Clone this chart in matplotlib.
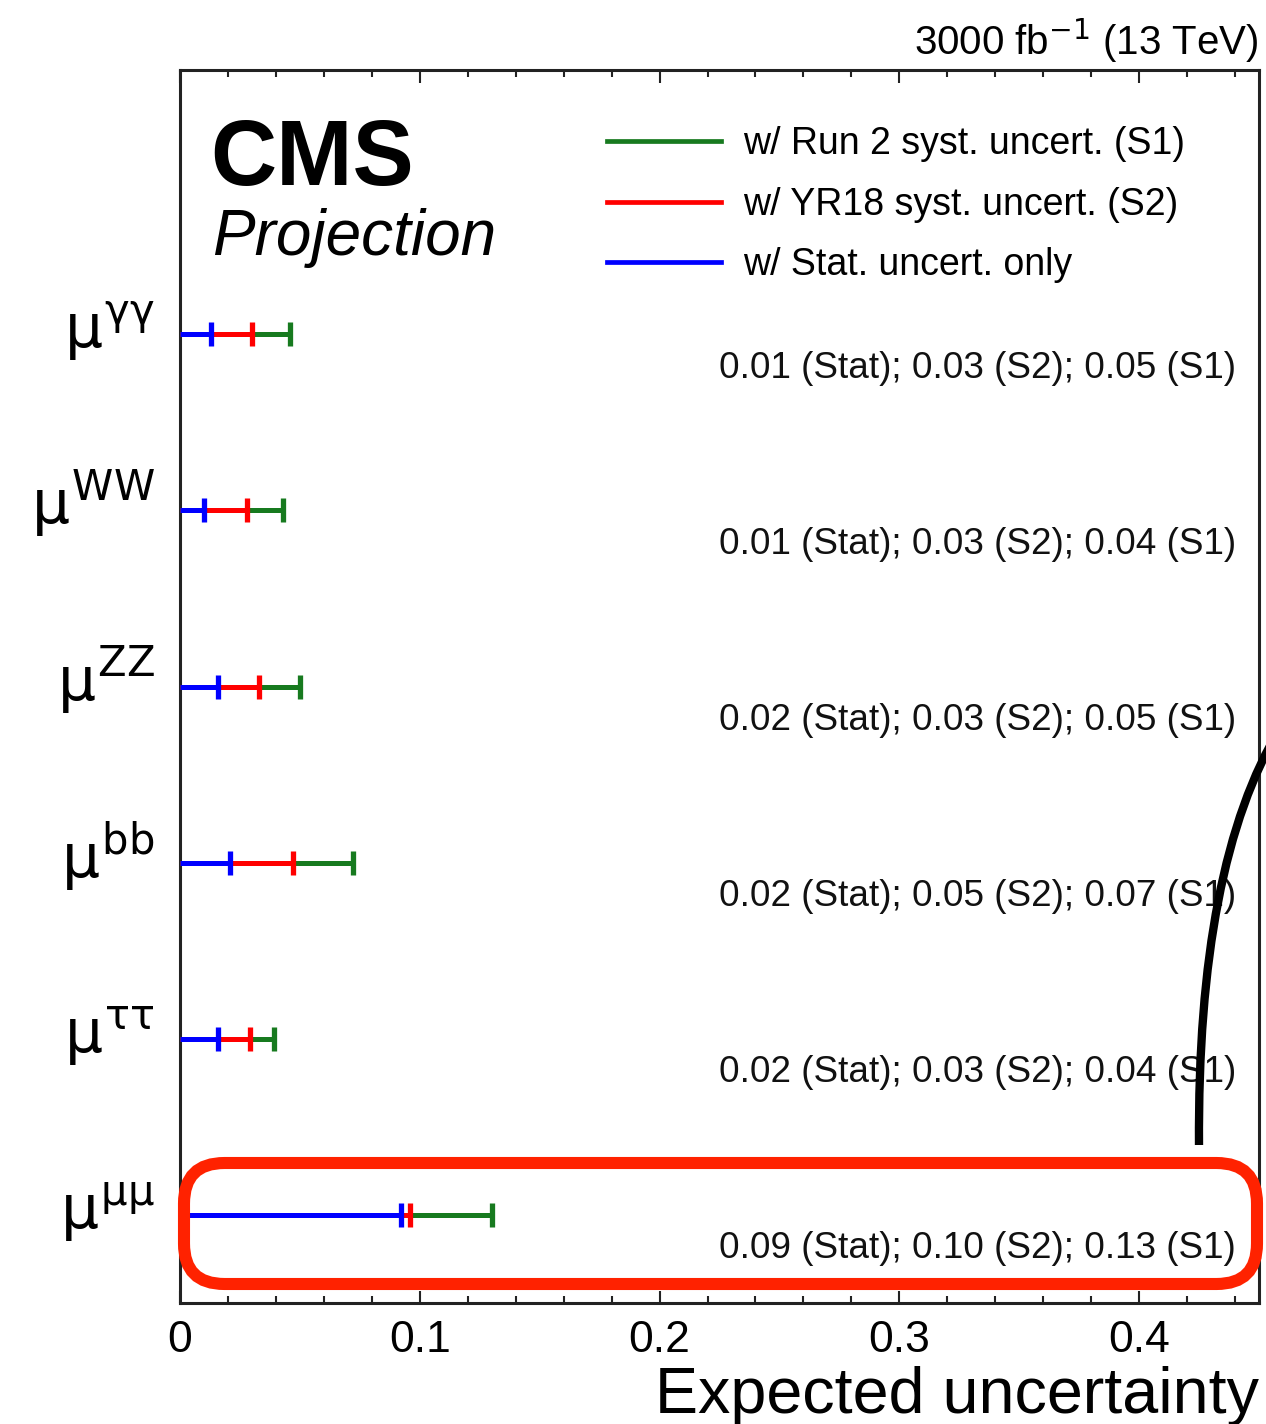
import matplotlib
matplotlib.use("Agg")
import matplotlib.pyplot as plt
from matplotlib.patches import FancyBboxPatch, PathPatch
from matplotlib.path import Path
from matplotlib.ticker import MultipleLocator

# kanaler, fra topp til bunn
kanaler = [r"$\mu^{\gamma\gamma}$", r"$\mu^{WW}$", r"$\mu^{ZZ}$",
           r"$\mu^{bb}$", r"$\mu^{\tau\tau}$", r"$\mu^{\mu\mu}$"]

# forventet usikkerhet lest av figuren
stat = [0.013, 0.010, 0.016, 0.021, 0.016, 0.092]
s2 = [0.030, 0.028, 0.033, 0.047, 0.029, 0.096]
s1 = [0.046, 0.043, 0.050, 0.072, 0.039, 0.130]

# avrundede tall som skrives i teksten
stat_txt = ["0.01", "0.01", "0.02", "0.02", "0.02", "0.09"]
s2_txt = ["0.03", "0.03", "0.03", "0.05", "0.03", "0.10"]
s1_txt = ["0.05", "0.04", "0.05", "0.07", "0.04", "0.13"]

serier = ["w/ Run 2 syst. uncert. (S1)", "w/ YR18 syst. uncert. (S2)", "w/ Stat. uncert. only"]
farger = ["#177a1f", "#ff0000", "#0000ff"]

plt.rcParams["font.family"] = ["Liberation Sans", "DejaVu Sans"]
plt.rcParams["mathtext.fontset"] = "custom"
plt.rcParams["mathtext.rm"] = "DejaVu Sans"
plt.rcParams["mathtext.it"] = "DejaVu Sans"
plt.rcParams["mathtext.bf"] = "DejaVu Sans:bold"

W, H = 1266, 1424
fig = plt.figure(figsize=(W / 100, H / 100), dpi=100)
ax = fig.add_axes([180 / W, 1 - 1303 / H, (1259 - 180) / W, (1303 - 70) / H])

n = len(kanaler)
ypos = [n - 0.5 - i for i in range(n)]

# tegner fra storst til minst saa den minste ligger oeverst
for verdier, farge, navn in zip([s1, s2, stat], farger, serier):
    ax.hlines(ypos, 0, verdier, color=farge, lw=3.6, zorder=3)
    ax.plot(verdier, ypos, ls="none", marker="|", ms=17, mew=3.8, color=farge, zorder=3)
    ax.plot([], [], color=farge, lw=3.4, label=navn)

for i in range(n):
    ax.text(-0.0105, ypos[i] - 0.08, kanaler[i], ha="right", va="baseline", fontsize=43)
    ax.text(0.4405, ypos[i] - 0.193,
            f"{stat_txt[i]} (Stat); {s2_txt[i]} (S2); {s1_txt[i]} (S1)",
            ha="right", va="center", fontsize=26.6, color="#111111")

ax.set_xlim(0, 0.45)
ax.set_ylim(0, 7)
ax.set_yticks([])
ax.xaxis.set_major_locator(MultipleLocator(0.1))
ax.xaxis.set_minor_locator(MultipleLocator(0.02))
ax.set_xticks([0, 0.1, 0.2, 0.3, 0.4])
ax.set_xticklabels(["0", "0.1", "0.2", "0.3", "0.4"])
ax.tick_params(axis="x", which="both", direction="in", top=True, bottom=True,
               labelsize=32, pad=12, width=1.5, color="#222222")
ax.tick_params(axis="x", which="major", length=9)
ax.tick_params(axis="x", which="minor", length=5)
for s in ax.spines.values():
    s.set_linewidth(2.2)
    s.set_color("#222222")

ax.set_xlabel("Expected uncertainty", loc="right", fontsize=46.5, labelpad=4)

ax.legend(loc="upper left", bbox_to_anchor=(0.3815, 0.9665), frameon=False, fontsize=27,
          handlelength=3.05, handletextpad=0.6, labelspacing=0.65, borderaxespad=0)

ax.text(0.028, 0.907, "CMS", transform=ax.transAxes, fontsize=66, fontweight="bold",
        va="baseline", ha="left")
ax.text(0.0297, 0.850, "Projection", transform=ax.transAxes, fontsize=46, style="italic",
        va="baseline", ha="left")
ax.text(1.0, 1.012, r"3000 fb$^{-1}$ (13 TeV)", transform=ax.transAxes, fontsize=29,
        ha="right", va="baseline")


def px(x, y):
    return (x / W, 1 - y / H)


# roed ramme rundt mu-mu raden
x0, y0 = px(184, 1284)
x1, y1 = px(1257, 1163)
ramme = FancyBboxPatch((x0, y0), x1 - x0, y1 - y0,
                       boxstyle="round,pad=0,rounding_size=0.032",
                       transform=fig.transFigure, fill=False, ec="#ff2200", lw=8.7,
                       mutation_aspect=W / H, zorder=5)
fig.patches.append(ramme)

# svart kurve
bue = Path([px(1199, 1145), px(1197, 865), px(1280, 728)],
           [Path.MOVETO, Path.CURVE3, Path.CURVE3])
fig.patches.append(PathPatch(bue, transform=fig.transFigure, fill=False, ec="black",
                             lw=6, zorder=5))

fig.savefig("out.png", dpi=100)
